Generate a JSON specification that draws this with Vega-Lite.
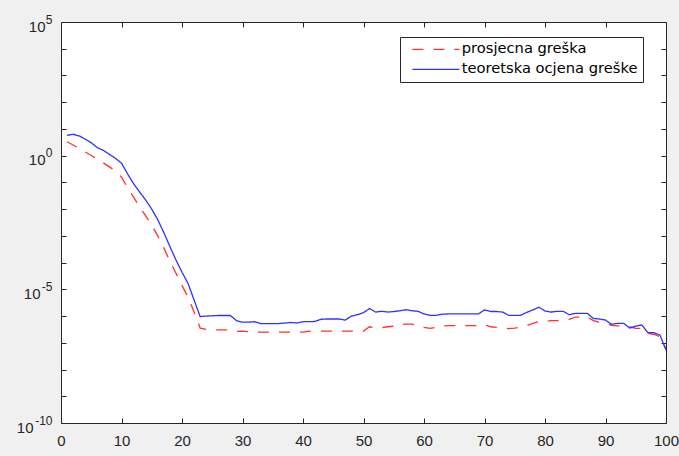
{
  "$schema": "https://vega.github.io/schema/vega-lite/v6.json",
  "width": 605,
  "height": 401,
  "autosize": {"type": "none"},
  "padding": {"left": 61, "top": 22, "right": 13, "bottom": 33},
  "background": "#f0f0f0",
  "config": {
    "view": {"fill": "white", "stroke": "#262626", "strokeWidth": 1},
    "font": "Liberation Sans",
    "axis": {"domain": false, "grid": false, "tickColor": "#262626", "tickWidth": 1, "tickSize": -5, "labelColor": "#262626", "labelFontSize": 15, "labelFont": "Liberation Sans", "title": null, "labelOverlap": false, "labelFlush": false}
  },
  "data": {"values": [
    {"n":1,"p":3.31,"t":5.75},{"n":2,"p":2.51,"t":6.31},{"n":3,"p":1.86,"t":5.5},{"n":4,"p":1.38,"t":4.17},{"n":5,"p":1.02,"t":3.02},
    {"n":6,"p":0.741,"t":2.0},{"n":7,"p":0.537,"t":1.58},{"n":8,"p":0.38,"t":1.12},{"n":9,"p":0.263,"t":0.794},{"n":10,"p":0.158,"t":0.525},
    {"n":11,"p":0.0631,"t":0.209},{"n":12,"p":0.0282,"t":0.0891},{"n":13,"p":0.012,"t":0.0437},{"n":14,"p":0.00562,"t":0.0219},{"n":15,"p":0.00251,"t":0.01},
    {"n":16,"p":0.001,"t":0.00398},{"n":17,"p":3.55e-4,"t":0.00132},{"n":18,"p":1.12e-4,"t":3.98e-4},{"n":19,"p":3.98e-5,"t":1.26e-4},{"n":20,"p":1.41e-5,"t":4.37e-5},
    {"n":21,"p":5.01e-6,"t":1.66e-5},{"n":22,"p":1.41e-6,"t":3.98e-6},{"n":23,"p":3.55e-7,"t":9.55e-7},{"n":24,"p":3.16e-7,"t":1.0e-6},{"n":25,"p":3.16e-7,"t":1.02e-6},
    {"n":26,"p":3.02e-7,"t":1.05e-6},{"n":27,"p":3.02e-7,"t":1.05e-6},{"n":28,"p":3.02e-7,"t":1.05e-6},{"n":29,"p":2.69e-7,"t":6.76e-7},{"n":30,"p":2.75e-7,"t":5.89e-7},
    {"n":31,"p":2.63e-7,"t":5.89e-7},{"n":32,"p":2.51e-7,"t":6.17e-7},{"n":33,"p":2.51e-7,"t":5.25e-7},{"n":34,"p":2.51e-7,"t":5.25e-7},{"n":35,"p":2.51e-7,"t":5.25e-7},
    {"n":36,"p":2.51e-7,"t":5.25e-7},{"n":37,"p":2.51e-7,"t":5.5e-7},{"n":38,"p":2.51e-7,"t":5.75e-7},{"n":39,"p":2.51e-7,"t":5.5e-7},{"n":40,"p":2.51e-7,"t":6.17e-7},
    {"n":41,"p":2.75e-7,"t":6.17e-7},{"n":42,"p":2.75e-7,"t":6.31e-7},{"n":43,"p":2.75e-7,"t":7.59e-7},{"n":44,"p":2.75e-7,"t":7.76e-7},{"n":45,"p":2.75e-7,"t":7.76e-7},
    {"n":46,"p":2.75e-7,"t":7.76e-7},{"n":47,"p":2.75e-7,"t":7.08e-7},{"n":48,"p":2.75e-7,"t":1.0e-6},{"n":49,"p":2.75e-7,"t":1.12e-6},{"n":50,"p":2.75e-7,"t":1.35e-6},
    {"n":51,"p":3.98e-7,"t":1.91e-6},{"n":52,"p":3.63e-7,"t":1.41e-6},{"n":53,"p":3.63e-7,"t":1.51e-6},{"n":54,"p":3.98e-7,"t":1.41e-6},{"n":55,"p":4.17e-7,"t":1.48e-6},
    {"n":56,"p":4.79e-7,"t":1.58e-6},{"n":57,"p":5.01e-7,"t":1.74e-6},{"n":58,"p":5.01e-7,"t":1.58e-6},{"n":59,"p":4.37e-7,"t":1.51e-6},{"n":60,"p":3.8e-7,"t":1.2e-6},
    {"n":61,"p":3.47e-7,"t":1.07e-6},{"n":62,"p":3.8e-7,"t":1.07e-6},{"n":63,"p":4.17e-7,"t":1.17e-6},{"n":64,"p":4.37e-7,"t":1.2e-6},{"n":65,"p":4.37e-7,"t":1.2e-6},
    {"n":66,"p":4.37e-7,"t":1.2e-6},{"n":67,"p":4.37e-7,"t":1.2e-6},{"n":68,"p":4.37e-7,"t":1.2e-6},{"n":69,"p":4.37e-7,"t":1.2e-6},{"n":70,"p":4.79e-7,"t":1.7e-6},
    {"n":71,"p":3.98e-7,"t":1.48e-6},{"n":72,"p":3.8e-7,"t":1.48e-6},{"n":73,"p":3.63e-7,"t":1.41e-6},{"n":74,"p":3.39e-7,"t":1.07e-6},{"n":75,"p":3.55e-7,"t":1.07e-6},
    {"n":76,"p":3.8e-7,"t":1.07e-6},{"n":77,"p":4.37e-7,"t":1.38e-6},{"n":78,"p":5.37e-7,"t":1.7e-6},{"n":79,"p":6.31e-7,"t":2.14e-6},{"n":80,"p":6.31e-7,"t":1.55e-6},
    {"n":81,"p":6.76e-7,"t":1.41e-6},{"n":82,"p":6.76e-7,"t":1.51e-6},{"n":83,"p":6.76e-7,"t":1.51e-6},{"n":84,"p":7.59e-7,"t":1.12e-6},{"n":85,"p":9.12e-7,"t":1.26e-6},
    {"n":86,"p":9.12e-7,"t":1.26e-6},{"n":87,"p":9.12e-7,"t":1.26e-6},{"n":88,"p":6.76e-7,"t":8.13e-7},{"n":89,"p":5.89e-7,"t":7.76e-7},{"n":90,"p":5.5e-7,"t":7.08e-7},
    {"n":91,"p":4.47e-7,"t":4.9e-7},{"n":92,"p":4.27e-7,"t":5.37e-7},{"n":93,"p":4.27e-7,"t":5.37e-7},{"n":94,"p":3.98e-7,"t":3.55e-7},{"n":95,"p":3.47e-7,"t":4.17e-7},
    {"n":96,"p":3.47e-7,"t":4.68e-7},{"n":97,"p":2.24e-7,"t":2.4e-7},{"n":98,"p":2.09e-7,"t":2.4e-7},{"n":99,"p":1.66e-7,"t":1.95e-7},{"n":100,"p":6.03e-8,"t":5.37e-8}
  ]},
  "transform": [{"fold": ["p", "t"], "as": ["key", "val"]}],
  "layer": [
    {
      "mark": {"type": "line", "strokeWidth": 1.3, "clip": true},
      "encoding": {
        "x": {"field": "n", "type": "quantitative", "scale": {"domain": [0, 100], "nice": false, "zero": false},
              "axis": {"orient": "bottom", "values": [0,10,20,30,40,50,60,70,80,90,100], "labelPadding": 15}},
        "y": {"field": "val", "type": "quantitative", "scale": {"type": "log", "domain": [1e-10, 1e5], "nice": false},
              "axis": {"orient": "left", "values": [1e-10,1e-9,1e-8,1e-7,1e-6,1e-5,1e-4,1e-3,1e-2,1e-1,1,10,100,1000,10000,100000],
                       "labelOffset": 4,
                       "labelPadding": {"condition": [{"test": "datum.value < 1e-7", "value": 33}, {"test": "datum.value < 1e-2", "value": 26}], "value": 21},
                       "labelExpr": "(datum.value == 100000 || datum.value == 1 || datum.value == 1e-5 || datum.value == 1e-10) ? '10' : ''"}},
        "color": {"field": "key", "type": "nominal", "scale": {"domain": ["p", "t"], "range": ["#ff3030", "#3030ff"]},
                  "legend": {"title": null, "orient": "none", "legendX": 339, "legendY": 15, "symbolType": "M0,0H9.4", "symbolSize": 100, "symbolStrokeWidth": 1.3,
                             "labelFont": "DejaVu Sans", "labelFontSize": 14.7, "labelLimit": 400, "labelColor": "#000000", "labelOffset": 42, "strokeColor": "#262626", "fillColor": "white", "padding": 5, "rowPadding": 4,
                             "labelExpr": "datum.label == 'p' ? 'prosjecna greška' : 'teoretska ocjena greške'"}},
        "strokeDash": {"field": "key", "type": "nominal", "scale": {"domain": ["p", "t"], "range": [[11, 10], [1, 0]]},
                  "legend": {"title": null, "orient": "none", "legendX": 339, "legendY": 15, "symbolType": "M0,0H9.4", "symbolSize": 100, "symbolStrokeWidth": 1.3,
                             "labelFont": "DejaVu Sans", "labelFontSize": 14.7, "labelLimit": 400, "labelColor": "#000000", "labelOffset": 42, "strokeColor": "#262626", "fillColor": "white", "padding": 5, "rowPadding": 4,
                             "labelExpr": "datum.label == 'p' ? 'prosjecna greška' : 'teoretska ocjena greške'"}}
      }
    },
    {
      "mark": {"type": "line", "opacity": 0},
      "encoding": {
        "x": {"field": "n", "type": "quantitative", "axis": {"orient": "top", "values": [0,10,20,30,40,50,60,70,80,90,100], "labels": false}},
        "y": {"field": "val", "type": "quantitative", "axis": {"orient": "right", "values": [1e-10,1e-9,1e-8,1e-7,1e-6,1e-5,1e-4,1e-3,1e-2,1e-1,1,10,100,1000,10000,100000], "labels": false}},
        "detail": {"field": "key"}
      }
    },
    {
      "mark": {"type": "line", "opacity": 0},
      "encoding": {
        "x": {"field": "n", "type": "quantitative", "axis": null},
        "y": {"field": "val", "type": "quantitative", "axis": {"orient": "left", "values": [1e-10,1e-5,1,100000], "tickOpacity": 0, "labelFontSize": 12, "labelPadding": 14, "labelOffset": -3,
               "labelExpr": "datum.value == 100000 ? '5' : datum.value == 1 ? '0' : datum.value == 1e-5 ? '-5' : '-10'"}},
        "detail": {"field": "key"}
      }
    }
  ],
  "resolve": {"axis": {"x": "independent", "y": "independent"}}
}
